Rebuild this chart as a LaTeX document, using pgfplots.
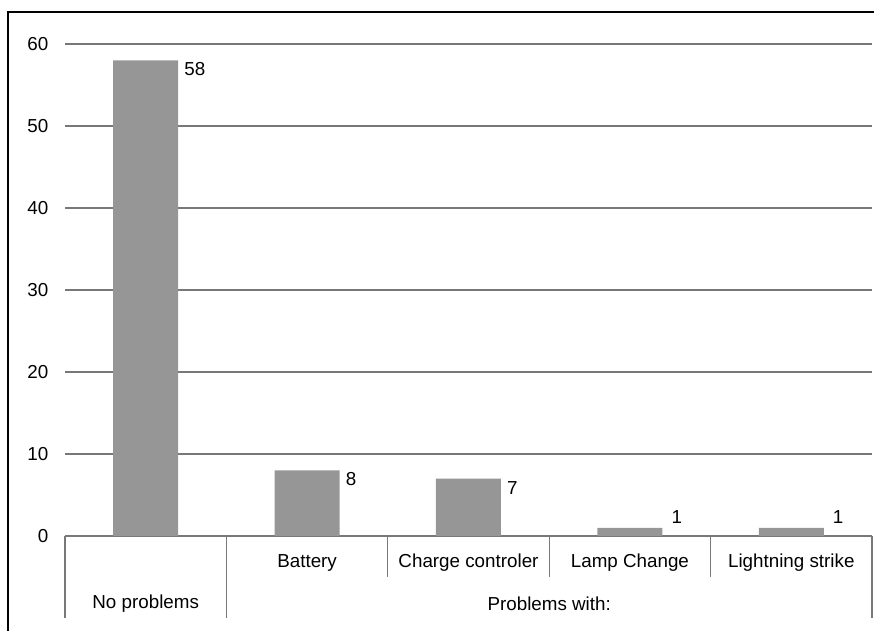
\documentclass[border=0pt]{standalone}
\usepackage{pgfplots}
\pgfplotsset{compat=1.18}
\usepackage{fontspec}
\setmainfont{Liberation Sans}
\definecolor{barc}{RGB}{150,150,150}
\definecolor{gridc}{RGB}{120,120,120}
\newcommand{\lblfont}{\fontsize{9.4}{11}\selectfont}
\begin{document}
\lblfont
\begin{tikzpicture}
\useasboundingbox (0,0) rectangle (437pt,315.5pt);
\draw[black, line width=0.7pt] (4pt,-5pt) rectangle (445pt,309.5pt);
\begin{axis}[
  at={(32.5pt,47.5pt)}, anchor=south west,
  scale only axis, width=403.5pt, height=246pt,
  xmin=-0.5, xmax=4.5, ymin=0, ymax=60,
  ytick={0,10,...,60},
  xtick=\empty,
  axis lines*=left,
  x axis line style={gridc, line width=0.6pt, -},
  y axis line style={draw=none},
  ymajorgrids, grid style={gridc, line width=0.6pt},
  major tick length=0pt,
  yticklabel style={anchor=east, xshift=-5pt, font=\lblfont},
  /pgf/number format/assume math mode=true,
  clip=false,
  ybar, bar width=32.5pt, bar shift=0pt,
]
\addplot[fill=barc, draw=none,
  nodes near coords,
  every node near coord/.append style={anchor=west, xshift=16pt, yshift=-4.5pt, black, font=\lblfont}]
  coordinates {(0,58) (1,8) (2,7)};
\addplot[fill=barc, draw=none,
  nodes near coords,
  every node near coord/.append style={anchor=west, xshift=17.5pt, yshift=5.5pt, black, font=\lblfont}]
  coordinates {(3,1) (4,1)};
% category separators
\draw[gridc, line width=0.6pt] (axis cs:-0.5,0) -- ([yshift=-41pt]axis cs:-0.5,0);
\draw[gridc, line width=0.6pt] (axis cs:0.5,0) -- ([yshift=-41pt]axis cs:0.5,0);
\draw[gridc, line width=0.6pt] (axis cs:4.5,0) -- ([yshift=-41pt]axis cs:4.5,0);
\draw[gridc, line width=0.6pt] (axis cs:1.5,0) -- ([yshift=-20.5pt]axis cs:1.5,0);
\draw[gridc, line width=0.6pt] (axis cs:2.5,0) -- ([yshift=-20.5pt]axis cs:2.5,0);
\draw[gridc, line width=0.6pt] (axis cs:3.5,0) -- ([yshift=-20.5pt]axis cs:3.5,0);
\node at ([yshift=-13.5pt]axis cs:1,0) {Battery};
\node at ([yshift=-13.5pt]axis cs:2,0) {Charge controler};
\node at ([yshift=-13.5pt]axis cs:3,0) {Lamp Change};
\node at ([yshift=-13.5pt]axis cs:4,0) {Lightning strike};
\node at ([yshift=-34pt]axis cs:0,0) {No problems};
\node at ([yshift=-34pt]axis cs:2.5,0) {Problems with:};
\end{axis}
\end{tikzpicture}
\end{document}
